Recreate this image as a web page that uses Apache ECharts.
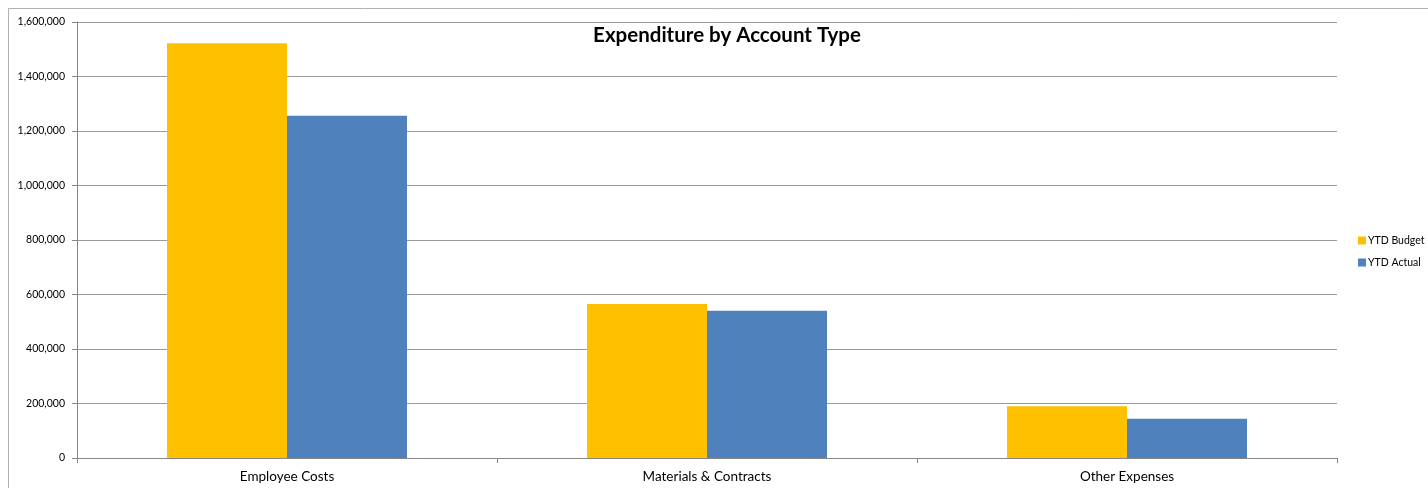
<!DOCTYPE html>
<html><head><meta charset="utf-8">
<script src="https://cdn.jsdelivr.net/npm/echarts@6/dist/echarts.min.js"></script>
<style>html,body{margin:0;padding:0;background:#fff}#c{width:1428px;height:488px}</style>
</head><body><div id="c"></div>
<script>
const categories = ['Employee Costs', 'Materials & Contracts', 'Other Expenses'];
const ytdBudget = [1522000, 565000, 189500];
const ytdActual = [1256000, 540500, 144000];
const seriesNames = ['YTD Budget', 'YTD Actual'];
const FONT = 'Lato, "Open Sans", sans-serif';
const chart = echarts.init(document.getElementById('c'), null, {renderer: 'canvas'});
chart.setOption({
  animation: false,
  backgroundColor: '#fff',
  title: {
    text: 'Expenditure by Account Type', left: 722, top: 20, textAlign: 'center',
    textStyle: {fontFamily: FONT, fontSize: 20.5, fontWeight: 'bold', color: '#000'}
  },
  graphic: [{
    type: 'rect', shape: {x: 8.5, y: 8.5, width: 1440, height: 500},
    style: {fill: 'none', stroke: '#b0b0b0', lineWidth: 1}, silent: true
  }],
  legend: {
    orient: 'vertical', left: 1353, top: 230, itemWidth: 8, itemHeight: 8, itemGap: 11,
    icon: 'rect', itemStyle: {borderWidth: 0},
    textStyle: {fontFamily: FONT, fontSize: 10.5, color: '#000', padding: [0, 0, 0, -3]},
    data: seriesNames
  },
  grid: {left: 77, right: 91, top: 22, bottom: 30, containLabel: false},
  xAxis: {
    type: 'category', data: categories,
    axisLine: {lineStyle: {color: '#868686'}},
    axisTick: {show: true, length: 5, lineStyle: {color: '#868686'}},
    axisLabel: {fontFamily: FONT, fontSize: 13.5, color: '#000', margin: 12}
  },
  yAxis: {
    type: 'value', min: 0, max: 1600000, interval: 200000,
    axisLine: {show: true, lineStyle: {color: '#868686'}},
    axisTick: {show: true, length: 5, lineStyle: {color: '#868686'}},
    splitLine: {lineStyle: {color: '#9a9a9a'}},
    axisLabel: {fontFamily: FONT, fontSize: 10.5, color: '#000', margin: 12,
      formatter: v => v.toLocaleString('en-US')}
  },
  series: [
    {name: seriesNames[0], type: 'bar', data: ytdBudget, barGap: '0%', barCategoryGap: '42.86%',
     itemStyle: {color: '#FFC000'}},
    {name: seriesNames[1], type: 'bar', data: ytdActual, barGap: '0%', barCategoryGap: '42.86%',
     itemStyle: {color: '#4F81BD'}}
  ]
});
</script></body></html>
